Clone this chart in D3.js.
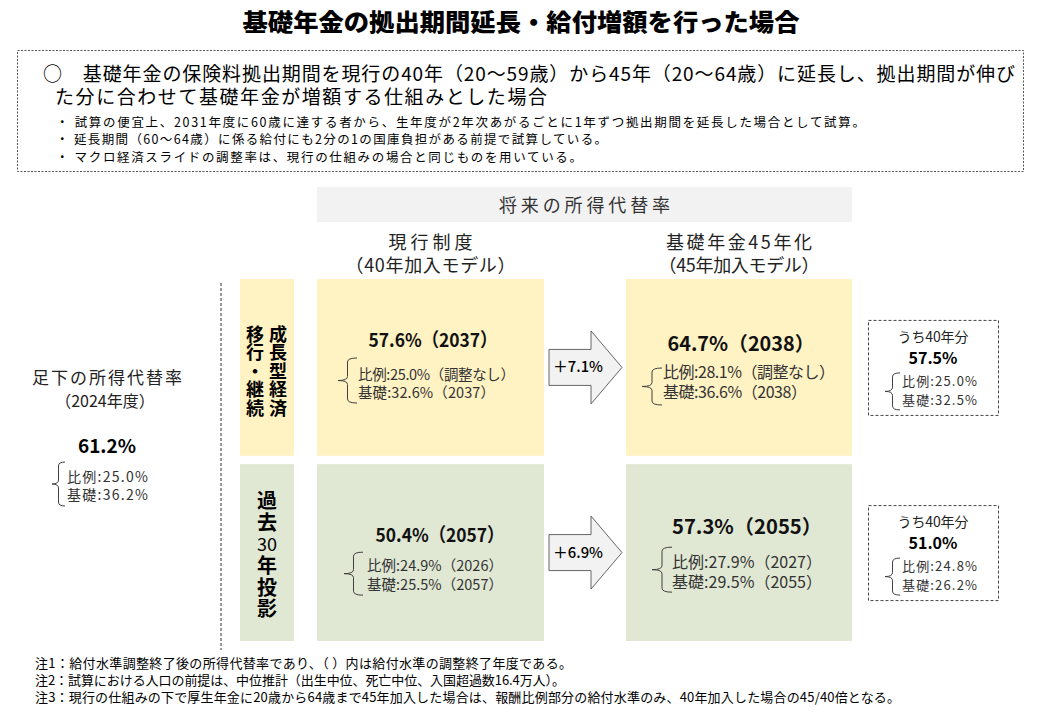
<!DOCTYPE html>
<html>
<head>
<meta charset="utf-8">
<script src="https://cdn.jsdelivr.net/npm/d3@7"></script>
<style>
  body { margin: 0; background: #fff; }
  svg { display: block; font-family: "Noto Sans CJK JP", "Noto Sans", sans-serif; }
</style>
</head>
<body>
<script>
// ---- data ----
var title = "基礎年金の拠出期間延長・給付増額を行った場合"
var leadLines = [
  "○　基礎年金の保険料拠出期間を現行の40年（20～59歳）から45年（20～64歳）に延長し、拠出期間が伸び",
  "た分に合わせて基礎年金が増額する仕組みとした場合"
]
var bulletLines = [
  "・ 試算の便宜上、2031年度に60歳に達する者から、生年度が2年次あがるごとに1年ずつ拠出期間を延長した場合として試算。",
  "・ 延長期間（60～64歳）に係る給付にも2分の1の国庫負担がある前提で試算している。",
  "・ マクロ経済スライドの調整率は、現行の仕組みの場合と同じものを用いている。"
]
var footNotes = [
  "注1：給付水準調整終了後の所得代替率であり、（ ）内は給付水準の調整終了年度である。",
  "注2：試算における人口の前提は、中位推計（出生中位、死亡中位、入国超過数16.4万人）。",
  "注3：現行の仕組みの下で厚生年金に20歳から64歳まで45年加入した場合は、報酬比例部分の給付水準のみ、40年加入した場合の45/40倍となる。"
]
var headerLabel = "将来の所得代替率"
var columnTitles = [["現行制度", "（40年加入モデル）"], ["基礎年金45年化", "（45年加入モデル）"]]

var scenarios = ["成長型経済移行・継続", "過去30年投影"]
// pieces of the vertical scenario labels
var scenarioPieces = [
  ["成長型経済", "移行・継続"],
  ["過去", "30", "年投影"]
]

var baseTitle = ["足下の所得代替率", "（2024年度）"]
var baseTotal = 61.2
var baseHirei = 25.0
var baseKiso = 36.2

var curTotal = [57.6, 50.4]
var curYear = [2037, 2057]
var curHirei = [25.0, 24.9]
var curHireiNote = ["調整なし", "2026"]
var curKiso = [32.6, 25.5]
var curKisoYear = [2037, 2057]

var extTotal = [64.7, 57.3]
var extYear = [2038, 2055]
var extHirei = [28.1, 27.9]
var extHireiNote = ["調整なし", "2027"]
var extKiso = [36.6, 29.5]
var extKisoYear = [2038, 2055]

var gain = [7.1, 6.9]

var of40Label = "うち40年分"
var of40Total = [57.5, 51.0]
var of40Hirei = [25.0, 24.8]
var of40Kiso = [32.5, 26.2]

// ---- layout ----
var W = 1040, H = 720
var f1 = d3.format(".1f")
var rowFill = d3.scaleOrdinal().domain(scenarios).range(["#fff2c3", "#e0e8d4"])

var colKeys = ["label", "current", "arrow", "ext", "of40"]
var colX = d3.scaleOrdinal().domain(colKeys).range([240, 317, 549, 626, 868])
var colW = d3.scaleOrdinal().domain(colKeys).range([54, 227, 73, 226, 130])
var rowY = d3.scaleBand().domain(scenarios).range([279, 641]).paddingInner(0.045)

// text offsets inside the two big boxes (relative to box left/top)
var cellLayout = {
  current: [
    {tx: 116, ty: 68, tw: 129, lx: 41, ly: [101, 119], lw: [157, 137], bx: 21, by: [79, 124], bw: 19},
    {tx: 123, ty: 78, tw: 129, lx: 50, ly: [107, 126], lw: [136, 136], bx: 27, by: [88, 131], bw: 19}
  ],
  ext: [
    {tx: 115, ty: 72, tw: 147, lx: 37, ly: [99, 119], lw: [172, 144], bx: 16, by: [89, 126], bw: 20},
    {tx: 121, ty: 70, tw: 150, lx: 46, ly: [104, 124], lw: [150, 150], bx: 26, by: [83, 128], bw: 20}
  ]
}
// vertical label pieces: x offset in label column, y of first glyph centre, font size, step, upright
var pieceLayout = [
  [{dx: 38, cy: 55, size: 18, step: 18.5, v: true}, {dx: 15, cy: 55, size: 18, step: 18.5, v: true}],
  [{dx: 27, cy: 36, size: 20, step: 21.8, v: true},
   {dx: 27, cy: 79, size: 18, step: 0, v: false},
   {dx: 27, cy: 101, size: 20, step: 21.8, v: true}]
]

var svg = d3.select("body").append("svg")
    .attr("width", W)
    .attr("height", H)

function addText(g, x, y, str, o){
  o = o || {}
  var t = g.append("text")
      .attr("x", x)
      .attr("y", y)
      .attr("font-size", o.size || 14)
      .attr("font-weight", o.weight || 400)
      .attr("fill", o.fill || "#000")
      .attr("text-anchor", o.anchor || "start")
      .text(str)
  if (o.len) t.attr("textLength", o.len).attr("lengthAdjust", o.adjust || "spacing")
  if (o.central) t.attr("dominant-baseline", "central")
  return t
}

function bracePath(x, y0, y1, w){
  var s = x + w * 0.5, ym = (y0 + y1) / 2, r = 4
  return "M" + (x + w) + "," + y0 +
    " Q" + s + "," + y0 + " " + s + "," + (y0 + r) +
    " L" + s + "," + (ym - r) +
    " Q" + s + "," + ym + " " + x + "," + ym +
    " Q" + s + "," + ym + " " + s + "," + (ym + r) +
    " L" + s + "," + (y1 - r) +
    " Q" + s + "," + y1 + " " + (x + w) + "," + y1
}

function addBrace(g, x, y0, y1, w){
  g.append("path")
      .attr("d", bracePath(x, y0, y1, w))
      .attr("fill", "none")
      .attr("stroke", "#404040")
      .attr("stroke-width", 1)
}

// ---- title and lead box ----
addText(svg, 521, 31, title, {size: 24, weight: 900, anchor: "middle", len: 557, adjust: "spacingAndGlyphs"})

svg.append("rect")
    .attr("x", 17.5).attr("y", 50.5)
    .attr("width", 1006).attr("height", 121)
    .attr("fill", "none")
    .attr("stroke", "#555")
    .attr("stroke-dasharray", "2,1.5")

addText(svg, 43, 81, leadLines[0], {size: 19, len: 972})
addText(svg, 55, 104, leadLines[1], {size: 19, len: 492})
var bulletLens = [809, 551, 526]
bulletLines.forEach(function(line, i){
  addText(svg, 56, 126.5 + i * 17.5, line, {size: 12.5, len: bulletLens[i]})
})

// ---- header ----
var hx0 = colX("current"), hx1 = colX("ext") + colW("ext")
svg.append("rect")
    .attr("x", hx0).attr("y", 187)
    .attr("width", hx1 - hx0).attr("height", 35)
    .attr("fill", "#f2f2f2")
addText(svg, (hx0 + hx1) / 2, 212, headerLabel, {size: 18, anchor: "middle", fill: "#333", len: 171})

var colTitleLens = [[84, 170], [146, 161]]
;["current", "ext"].forEach(function(key, i){
  var cx = colX(key) + colW(key) / 2
  addText(svg, cx, 249, columnTitles[i][0], {size: 18, anchor: "middle", fill: "#222", len: colTitleLens[i][0]})
  addText(svg, cx, 272, columnTitles[i][1], {size: 18, anchor: "middle", fill: "#222", len: colTitleLens[i][1]})
})

// ---- left: current replacement rate ----
addText(svg, 107, 384, baseTitle[0], {size: 17, anchor: "middle", fill: "#222", len: 150})
addText(svg, 105, 407, baseTitle[1], {size: 16, anchor: "middle", fill: "#222"})
addText(svg, 107, 453, f1(baseTotal) + "%", {size: 19, weight: 700, anchor: "middle"})
addText(svg, 67, 482, "比例:" + f1(baseHirei) + "%", {size: 14, fill: "#333", len: 81})
addText(svg, 67, 500, "基礎:" + f1(baseKiso) + "%", {size: 14, fill: "#333", len: 81})
addBrace(svg, 52, 462, 506, 13)

svg.append("line")
    .attr("x1", 221).attr("x2", 221)
    .attr("y1", 283).attr("y2", 650)
    .attr("stroke", "#333")
    .attr("stroke-dasharray", "3,2")

// ---- rows ----
scenarios.forEach(function(sc, i){
  var y0 = rowY(sc), bh = rowY.bandwidth(), cy = y0 + bh / 2
  var g = svg.append("g").attr("class", "row row-" + i)

  // label column
  g.append("rect")
      .attr("x", colX("label")).attr("y", y0)
      .attr("width", colW("label")).attr("height", bh)
      .attr("fill", rowFill(sc))
  scenarioPieces[i].forEach(function(piece, k){
    var P = pieceLayout[i][k]
    var gx = colX("label") + P.dx
    if (P.v) {
      g.append("text")
          .attr("x", gx)
          .attr("y", y0 + P.cy - P.size / 2)
          .attr("font-size", P.size)
          .attr("font-weight", 700)
          .attr("fill", "#000")
          .style("writing-mode", "vertical-rl")
          .style("text-orientation", "upright")
          .style("letter-spacing", (P.step - P.size) + "px")
          .text(piece)
    } else {
      addText(g, gx, y0 + P.cy, piece, {size: P.size, anchor: "middle", central: true})
    }
  })

  // current and extended boxes
  var boxes = [
    {key: "current", total: curTotal[i], year: curYear[i], hirei: curHirei[i], hnote: curHireiNote[i],
      kiso: curKiso[i], kyear: curKisoYear[i], size: 19, lsize: 14.5},
    {key: "ext", total: extTotal[i], year: extYear[i], hirei: extHirei[i], hnote: extHireiNote[i],
      kiso: extKiso[i], kyear: extKisoYear[i], size: 19.5, lsize: 16}
  ]
  boxes.forEach(function(b){
    var x0 = colX(b.key), L = cellLayout[b.key][i]
    g.append("rect")
        .attr("x", x0).attr("y", y0)
        .attr("width", colW(b.key)).attr("height", bh)
        .attr("fill", rowFill(sc))
    addText(g, x0 + L.tx, y0 + L.ty, f1(b.total) + "%（" + b.year + "）",
      {size: b.size, weight: 700, anchor: "middle", fill: "#111", len: L.tw, adjust: "spacingAndGlyphs"})
    addText(g, x0 + L.lx, y0 + L.ly[0], "比例:" + f1(b.hirei) + "%（" + b.hnote + "）",
      {size: b.lsize, fill: "#333", len: L.lw[0]})
    addText(g, x0 + L.lx, y0 + L.ly[1], "基礎:" + f1(b.kiso) + "%（" + b.kyear + "）",
      {size: b.lsize, fill: "#333", len: L.lw[1]})
    addBrace(g, x0 + L.bx, y0 + L.by[0], y0 + L.by[1], L.bw)
  })

  // arrow
  var ax = colX("arrow"), aw = colW("arrow"), ah = 73, sh = 36, head = 42
  var pts = [
    [ax, cy - sh / 2], [ax + head, cy - sh / 2], [ax + head, cy - ah / 2],
    [ax + aw, cy], [ax + head, cy + ah / 2], [ax + head, cy + sh / 2], [ax, cy + sh / 2]
  ]
  g.append("polygon")
      .attr("points", pts.map(function(p){ return p.join(",") }).join(" "))
      .attr("fill", "#f2f2f2")
      .attr("stroke", "#555")
      .attr("stroke-width", 0.9)
  addText(g, ax + 29, cy + 5, "＋" + f1(gain[i]) + "%", {size: 15, weight: 500, anchor: "middle", len: 50, adjust: "spacingAndGlyphs"})

  // "of 40 years" box
  var ox = colX("of40"), ow = colW("of40"), oh = 95, oy = cy - oh / 2
  g.append("rect")
      .attr("x", ox + 0.5).attr("y", oy + 0.5)
      .attr("width", ow).attr("height", oh)
      .attr("fill", "#fff")
      .attr("stroke", "#444")
      .attr("stroke-dasharray", "3,2")
  addText(g, ox + ow / 2, oy + 22, of40Label, {size: 14, anchor: "middle", fill: "#222", len: 71})
  addText(g, ox + ow / 2, oy + 44, f1(of40Total[i]) + "%", {size: 16, weight: 700, anchor: "middle"})
  addText(g, ox + 34, oy + 66, "比例:" + f1(of40Hirei[i]) + "%", {size: 13, fill: "#333", len: 75})
  addText(g, ox + 34, oy + 85, "基礎:" + f1(of40Kiso[i]) + "%", {size: 13, fill: "#333", len: 75})
  addBrace(g, ox + 17, oy + 53, oy + 90, 15)
})

// ---- foot notes ----
var noteLens = [537, 530, 865]
footNotes.forEach(function(line, i){
  addText(svg, 35, 668 + i * 17, line, {size: 13, len: noteLens[i]})
})
</script>
</body>
</html>
